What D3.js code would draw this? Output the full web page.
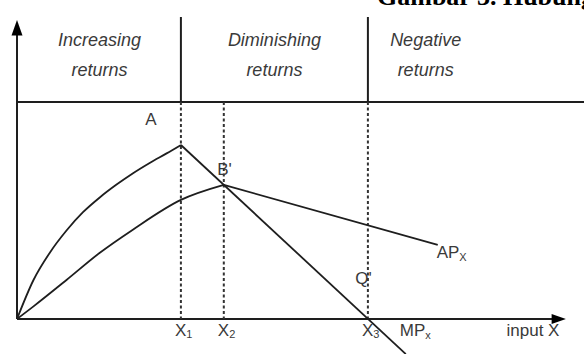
<!DOCTYPE html>
<html><head><meta charset="utf-8">
<script src="https://cdn.jsdelivr.net/npm/d3@7"></script>
<style>
html,body{margin:0;padding:0;background:#fff;}
svg{display:block;}
text{font-family:"Liberation Sans",Arial,sans-serif;fill:#3a3a3a;}
</style></head>
<body><svg id="c" width="584" height="354"></svg>
<script>
// ---- data (input units on x, output units on y) ----
const xMarks = [29.8, 37.6, 63.8];          // X1, X2, X3
const xMarkLabels = ["X", "X", "X"];
const xMarkSubs = ["1", "2", "3"];
const mpRiseX = [0, 3, 6, 9, 12, 15.1, 18.1, 21.1, 24.2, 27.2, 29.8];
const mpRiseY = [0, 13, 22.2, 29.5, 35.6, 40.6, 44.8, 48.6, 52.1, 55.2, 58];
const mpFallX = [29.8, 70.7];
const mpFallY = [58, -11.7];
const apRiseX = [0, 3, 9, 15, 21, 29.8, 37.6];
const apRiseY = [0, 4.2, 13, 22, 29.7, 39.7, 44.7];
const apFallX = [37.6, 76.5];
const apFallY = [44.7, 24.7];
const stageTop = 72.3;                       // level of the stage separator line
const stageNames = [["Increasing", "returns"], ["Diminishing", "returns"], ["Negative", "returns"]];
const stageCenters = [15, 46.8, 74.3];
const title = "Gambar 3. Hubungan";

const svg = d3.select("#c");
const x = d3.scaleLinear().domain([0, 100]).range([17, 567]);
const y = d3.scaleLinear().domain([0, 100]).range([319, 19]);
const ink = "#1e1e1e";

// title (cut at top, as in the reference)
svg.append("text").attr("x", 377).attr("y", 5)
  .style("font-family", "'Liberation Serif',serif").style("font-weight", "bold")
  .style("font-size", "26px").style("fill", "#000").text(title);

// axes
svg.append("line").attr("x1", x(0)).attr("x2", x(0)).attr("y1", y(0)).attr("y2", y(95))
  .attr("stroke", ink).attr("stroke-width", 2);
svg.append("path").attr("d", `M${x(0)-5.5},${y(94.5)}L${x(0)},${y(99.7)}L${x(0)+5.5},${y(94.5)}Z`).attr("fill", "#000");
svg.append("line").attr("x1", x(0)).attr("x2", x(98)).attr("y1", y(0)).attr("y2", y(0))
  .attr("stroke", ink).attr("stroke-width", 2);
svg.append("path").attr("d", `M${x(97.2)},${y(0)-5}L${x(99.8)},${y(0)}L${x(97.2)},${y(0)+5}Z`).attr("fill", "#000");

// stage separator line
svg.append("line").attr("x1", x(0)).attr("x2", 584).attr("y1", y(stageTop)).attr("y2", y(stageTop))
  .attr("stroke", ink).attr("stroke-width", 2);
// solid dividers in the stage band
[xMarks[0], xMarks[2]].forEach(v => {
  svg.append("line").attr("x1", x(v)).attr("x2", x(v)).attr("y1", 17).attr("y2", y(stageTop))
    .attr("stroke", ink).attr("stroke-width", 2);
});
// dashed drop lines
xMarks.forEach(v => {
  svg.append("line").attr("x1", x(v)).attr("x2", x(v)).attr("y1", y(stageTop)).attr("y2", y(0))
    .attr("stroke", "#333").attr("stroke-width", 2).attr("stroke-dasharray", "3,2.5");
});

// curves
const line = d3.line().x(d => x(d[0])).y(d => y(d[1]));
const curve = d3.line().x(d => x(d[0])).y(d => y(d[1])).curve(d3.curveMonotoneX);
const zip = (a, b) => a.map((v, i) => [v, b[i]]);
svg.append("path").attr("d", curve(zip(mpRiseX, mpRiseY))).attr("fill", "none").attr("stroke", ink).attr("stroke-width", 1.8);
svg.append("path").attr("d", line(zip(mpFallX, mpFallY))).attr("fill", "none").attr("stroke", ink).attr("stroke-width", 1.8);
svg.append("path").attr("d", curve(zip(apRiseX, apRiseY))).attr("fill", "none").attr("stroke", ink).attr("stroke-width", 1.8);
svg.append("path").attr("d", line(zip(apFallX, apFallY))).attr("fill", "none").attr("stroke", ink).attr("stroke-width", 1.8);

// stage names
stageNames.forEach((lines, i) => {
  lines.forEach((t, j) => {
    svg.append("text").attr("x", x(stageCenters[i])).attr("y", 46 + j * 30)
      .attr("text-anchor", "middle").style("font-style", "italic").style("font-size", "18px")
      .text(t);
  });
});

// point labels
const lab = (tx, ty, t, sub) => {
  const e = svg.append("text").attr("x", tx).attr("y", ty).style("font-size", "17px").text(t);
  if (sub) e.append("tspan").attr("dy", 3).style("font-size", "11px").text(sub);
};
lab(x(23.3), y(64.7), "A");
lab(x(36.4), y(48), "B'");
lab(x(61.5), y(11.7), "Q'");
lab(x(76.3), y(20.3), "AP", "X");
lab(x(69.6), 336, "MP", "x");
lab(x(89), 336, "input X");
xMarks.forEach((v, i) => {
  svg.append("text").attr("x", x(v) - 6).attr("y", 336).style("font-size", "17px")
    .text(xMarkLabels[i]).append("tspan").attr("dy", 2).style("font-size", "11px").text(xMarkSubs[i]);
});
</script></body></html>
